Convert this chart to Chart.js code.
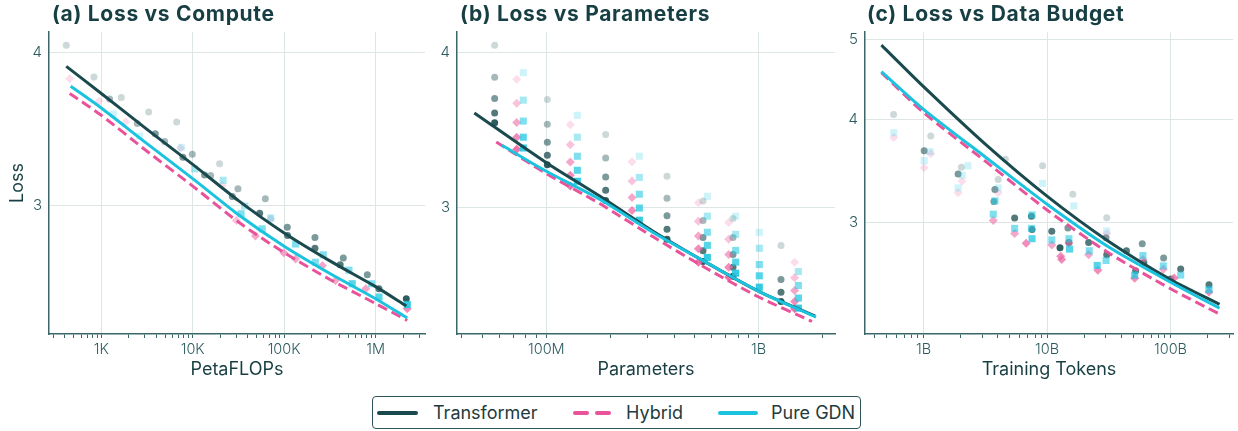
<!DOCTYPE html>
<html>
<head>
<meta charset="utf-8">
<script src="https://cdn.jsdelivr.net/npm/chart.js@4.4.1/dist/chart.umd.min.js"></script>
<style>
  body { margin: 0; background: #fff; font-family: Inter, sans-serif; }
  #wrap { position: relative; width: 1238px; height: 431px; overflow: hidden; }
  canvas { position: absolute; top: 0; }
  .ttl { position: absolute; top: 2px; font-weight: 700; font-size: 21px; letter-spacing: 0.7px; line-height: 24px; color: #173f43; white-space: nowrap; }
  #legend { position: absolute; left: 372px; top: 396px; width: 487px; height: 31px; border: 1.5px solid #2d5558; border-radius: 4px;
            font-size: 18px; color: #1f3b3d; }
  .item { display: flex; align-items: center; position: absolute; top: 0; height: 31px; }
  .swatch { height: 4px; border-radius: 2px; margin-right: 15px; }
</style>
</head>
<body>
<div id="wrap">
  <canvas id="chartA" width="430" height="380" style="left:0px"></canvas>
  <canvas id="chartB" width="410" height="380" style="left:430px"></canvas>
  <canvas id="chartC" width="398" height="380" style="left:840px"></canvas>
  <div class="ttl" style="left:52px">(a) Loss vs Compute</div>
  <div class="ttl" style="left:460px">(b) Loss vs Parameters</div>
  <div class="ttl" style="left:867px">(c) Loss vs Data Budget</div>
  <div id="legend">
    <div class="item" style="left:4px"><div class="swatch" style="width:41px;background:#1a4a4e"></div>Transformer</div>
    <div class="item" style="left:200px"><div class="swatch" style="width:16px;background:#e9539a;margin-right:6px"></div><div class="swatch" style="width:16px;background:#e9539a"></div>Hybrid</div>
    <div class="item" style="left:345px"><div class="swatch" style="width:40px;background:#1cc3de;margin-right:13px"></div>Pure GDN</div>
  </div>
</div>
<script>
// ---- (a) Loss vs Compute (PetaFLOPs) ----
const computeTfX = [414, 831, 1233, 1655, 2475, 3293, 3898, 4932, 6671, 7824, 9890, 13490, 15700, 19680, 27080, 31250, 53950, 62230, 108200, 109000, 217200, 217200, 410000, 443400, 811800, 1089000, 2167000];
const computeTfY = [4.058, 3.823, 3.668, 3.678, 3.503, 3.579, 3.436, 3.386, 3.512, 3.287, 3.306, 3.179, 3.175, 3.246, 3.052, 3.098, 2.958, 3.039, 2.881, 2.836, 2.826, 2.769, 2.684, 2.718, 2.634, 2.566, 2.518];
const computeTfShade = [0, 0, 1, 0, 1, 0, 2, 1, 0, 2, 1, 2, 1, 0, 2, 1, 3, 1, 2, 3, 2, 3, 3, 2, 2, 3, 4];
const computeHyX = [451, 943, 1847, 7400, 21050, 30000, 48500, 71170, 99000, 133400, 262000, 364000, 780000, 2220000];
const computeHyY = [3.811, 3.652, 3.512, 3.345, 3.116, 2.918, 2.833, 2.926, 2.745, 2.714, 2.680, 2.606, 2.566, 2.471];
const computeHyShade = [0, 0, 0, 0, 0, 1, 2, 0, 2, 2, 2, 2, 2, 3];
const computeGdX = [1353, 2626, 7502, 10490, 21500, 33800, 36970, 57500, 71170, 133400, 219000, 267900, 511600, 555000, 905400, 1089000, 2220000];
const computeGdY = [3.565, 3.420, 3.348, 3.215, 3.147, 2.955, 2.998, 2.872, 2.931, 2.791, 2.697, 2.735, 2.657, 2.590, 2.590, 2.526, 2.490];
const computeGdShade = [0, 0, 0, 1, 1, 2, 1, 2, 1, 2, 2, 2, 2, 3, 2, 3, 4];
const computeFitX = [1000, 3162, 10000, 31620, 100000, 316200, 1000000];
const computeFitTf = [3.900, 3.706, 3.464, 3.243, 3.029, 2.850, 2.704, 2.576, 2.484];
const computeFitHy = [3.706, 3.557, 3.324, 3.113, 2.909, 2.746, 2.611, 2.495, 2.417];
const computeFitGd = [3.757, 3.606, 3.372, 3.157, 2.949, 2.779, 2.640, 2.518, 2.428];
const computeTicks = [1e3, 1e4, 1e5, 1e6];
const computeLabels = ['1K', '10K', '100K', '1M'];

// ---- (b) Loss vs Parameters ----
const paramsTfX = [57.1e6, 57.1e6, 57.1e6, 57.1e6, 57.1e6, 101.1e6, 101.1e6, 101.1e6, 101.1e6, 101.1e6, 190.3e6, 190.3e6, 190.3e6, 190.3e6, 190.3e6,
  370.1e6, 370.1e6, 370.1e6, 370.1e6, 370.1e6, 546.8e6, 546.8e6, 546.8e6, 546.8e6, 546.8e6, 757e6, 757e6, 757e6, 757e6, 757e6, 1.274e9, 1.274e9, 1.274e9, 1.274e9];
const paramsTfY = [4.058, 3.823, 3.675, 3.578, 3.513, 3.668, 3.504, 3.388, 3.307, 3.250, 3.437, 3.290, 3.176, 3.099, 3.040,
  3.180, 3.053, 2.956, 2.882, 2.829, 3.038, 2.929, 2.838, 2.769, 2.714, 2.940, 2.838, 2.750, 2.686, 2.641, 2.796, 2.625, 2.564, 2.520];
const paramsTfShade = [0, 1, 2, 3, 4, 0, 1, 2, 3, 4, 0, 1, 2, 3, 4, 0, 1, 2, 3, 4, 0, 1, 2, 3, 4, 0, 1, 2, 3, 4, 0, 2, 3, 4];
const paramsHyX = [72.5e6, 72.5e6, 72.5e6, 72.5e6, 72.5e6, 129.7e6, 129.7e6, 129.7e6, 129.7e6, 129.7e6, 253.2e6, 253.2e6, 253.2e6, 253.2e6,
  519.9e6, 519.9e6, 519.9e6, 519.9e6, 519.9e6, 722.3e6, 722.3e6, 722.3e6, 722.3e6, 722.3e6, 1.477e9, 1.477e9, 1.477e9, 1.477e9, 1.477e9];
const paramsHyY = [3.809, 3.643, 3.515, 3.420, 3.344, 3.500, 3.373, 3.266, 3.186, 3.124, 3.268, 3.153, 3.057, 2.984,
  3.027, 2.925, 2.846, 2.780, 2.711, 2.918, 2.829, 2.750, 2.686, 2.636, 2.711, 2.633, 2.572, 2.520, 2.486];
const paramsHyShade = [0, 1, 2, 3, 4, 0, 1, 2, 3, 4, 0, 1, 2, 3, 0, 1, 2, 3, 4, 0, 1, 2, 3, 4, 0, 1, 2, 3, 4];
const paramsGdX = [77.9e6, 77.9e6, 77.9e6, 77.9e6, 77.9e6, 140e6, 140e6, 140e6, 140e6, 140e6, 274.2e6, 274.2e6, 274.2e6, 274.2e6, 274.2e6,
  573.2e6, 573.2e6, 573.2e6, 573.2e6, 573.2e6, 779.3e6, 779.3e6, 779.3e6, 779.3e6, 779.3e6, 1.007e9, 1.007e9, 1.007e9, 1.007e9, 1.007e9, 1.538e9, 1.538e9, 1.538e9, 1.538e9];
const paramsGdY = [3.856, 3.664, 3.524, 3.420, 3.352, 3.562, 3.420, 3.301, 3.216, 3.151, 3.301, 3.174, 3.076, 2.998, 2.931,
  3.064, 2.953, 2.866, 2.797, 2.735, 2.953, 2.855, 2.771, 2.711, 2.656, 2.866, 2.782, 2.699, 2.643, 2.588, 2.664, 2.596, 2.536, 2.489];
const paramsGdShade = [0, 1, 2, 3, 4, 0, 1, 2, 3, 4, 0, 1, 2, 3, 4, 0, 1, 2, 3, 4, 0, 1, 2, 3, 4, 0, 1, 2, 3, 4, 1, 2, 3, 4];
const paramsFitX = [100e6, 178.3e6, 316.8e6, 562.8e6, 1e9];
const paramsFitTf = [3.578, 3.262, 3.066, 2.873, 2.711, 2.568, 2.453];
const paramsFitHy = [3.390, 3.196, 3.023, 2.843, 2.682, 2.541, 2.428];
const paramsFitGd = [3.369, 3.210, 3.047, 2.866, 2.711, 2.568, 2.448];
const paramsTicks = [1e8, 1e9];
const paramsLabels = ['100M', '1B'];

// ---- (c) Loss vs Data Budget (training tokens) ----
const tokensTfX = [572e6, 1.144e9, 1.012e9, 2.024e9, 1.904e9, 3.783e9, 3.714e9, 4.023e9, 4.604e9, 5.466e9, 7.472e9, 7.564e9, 9.206e9, 10.93e9, 12.74e9,
  15.03e9, 14.76e9, 16.18e9, 21.73e9, 30.44e9, 30.06e9, 30.44e9, 43.97e9, 59.02e9, 60.85e9, 87.92e9, 120.9e9, 204.9e9, 52.21e9, 100.6e9];
const tokensTfY = [4.059, 3.823, 3.667, 3.504, 3.439, 3.292, 3.184, 3.386, 3.581, 3.040, 3.056, 2.944, 3.517, 2.931, 2.798,
  2.839, 2.957, 3.248, 2.839, 3.043, 2.878, 2.745, 2.775, 2.829, 2.684, 2.720, 2.638, 2.524, 2.624, 2.565];
const tokensTfShade = [0, 0, 2, 0, 2, 2, 2, 0, 0, 3, 3, 3, 0, 3, 4, 3, 2, 0, 3, 0, 2, 3, 3, 2, 3, 2, 3, 3, 3, 3];
const tokensHyX = [574e6, 1.012e9, 1.144e9, 1.904e9, 2.049e9, 3.669e9, 4.023e9, 5.466e9, 6.776e9, 10.93e9, 12.9e9, 13.14e9, 15.03e9, 21.73e9,
  25.79e9, 30.44e9, 51.26e9, 59.75e9, 87.38e9, 106.98e9, 204.9e9];
const tokensHyY = [3.806, 3.498, 3.637, 3.262, 3.368, 3.020, 3.262, 2.912, 2.834, 2.821, 2.733, 2.708, 2.834, 2.745,
  2.629, 2.912, 2.570, 2.708, 2.636, 2.572, 2.474];
const tokensHyShade = [0, 0, 0, 0, 0, 2, 0, 2, 3, 2, 3, 3, 2, 2, 3, 0, 3, 2, 2, 3, 3];
const tokensGdX = [574e6, 1.130e9, 1.012e9, 2.062e9, 1.904e9, 2.288e9, 4.023e9, 3.783e9, 3.669e9, 5.466e9, 7.564e9, 7.472e9, 7.564e9, 9.206e9,
  10.93e9, 15.03e9, 15.22e9, 16.48e9, 21.99e9, 25.48e9, 30.44e9, 30.06e9, 59.75e9, 51.26e9, 87.38e9, 120.9e9, 204.9e9];
const tokensGdY = [3.857, 3.660, 3.568, 3.426, 3.307, 3.517, 3.307, 3.189, 3.073, 2.954, 3.067, 2.954, 2.870, 3.349,
  2.860, 2.870, 2.788, 3.145, 2.775, 2.664, 2.933, 2.701, 2.738, 2.593, 2.660, 2.593, 2.489];
const tokensGdShade = [0, 0, 0, 0, 0, 0, 0, 2, 2, 2, 2, 2, 3, 0, 2, 2, 3, 0, 2, 3, 0, 2, 2, 3, 2, 2, 3];
const tokensFitX = [1e9, 3.162e9, 10e9, 31.62e9, 100e9];
const tokensFitTf = [4.926, 4.387, 3.737, 3.232, 2.848, 2.561, 2.390];
const tokensFitHy = [4.562, 4.081, 3.563, 3.109, 2.758, 2.496, 2.326];
const tokensFitGd = [4.575, 4.118, 3.605, 3.160, 2.804, 2.542, 2.364];
const tokensTicks = [1e9, 1e10, 1e11];
const tokensLabels = ['1B', '10B', '100B'];

// colours
const INK = '#173f43';
const TICK = '#2b5b5f';
const AXIS = '#3a6669';
const GRID = '#dde6e5';
const TF = '#1a4a4e', HY = '#e9539a', GD = '#1cc3de';
const TF_RGB = '29,79,82', HY_RGB = '238,104,164', GD_RGB = '34,200,226';
const alphas = [0.22, 0.4, 0.58, 0.76, 0.92];

Chart.defaults.font.family = 'Inter, sans-serif';

function pts(xs, ys) { return xs.map((x, i) => ({ x: x, y: ys[i] })); }

function scatterSet(xs, ys, shade, rgb, style, radius, order) {
  return {
    type: 'scatter', data: pts(xs, ys), order: order,
    pointStyle: style, pointRadius: radius, pointBorderWidth: 0,
    pointBackgroundColor: shade.map(s => `rgba(${rgb},${alphas[s]})`)
  };
}

// fit curve: end points are where the drawn curve starts/stops
function fitSet(x0, xs, x1, ys, color, dash, order) {
  return {
    type: 'line', data: pts([x0, ...xs, x1], ys), order: order,
    borderColor: color, borderWidth: 3, borderDash: dash, borderCapStyle: 'butt',
    pointRadius: 0, tension: 0.25, fill: false
  };
}

function minorTicks(min, max) {
  const out = [];
  for (let e = Math.floor(Math.log10(min)); e <= Math.ceil(Math.log10(max)); e++) {
    for (let m = 1; m < 10; m++) {
      const v = m * Math.pow(10, e);
      if (v >= min && v <= max) out.push({ value: v });
    }
  }
  return out;
}

function makePanel(id, cfg) {
  const isMajor = v => cfg.xTicks.some(m => Math.abs(v / m - 1) < 1e-6);
  new Chart(document.getElementById(id), {
    type: 'scatter',
    data: { datasets: cfg.datasets },
    options: {
      responsive: false,
      animation: false,
      devicePixelRatio: 1,
      layout: { padding: { left: 0, top: 32, right: cfg.padRight, bottom: 0 } },
      plugins: { legend: { display: false }, tooltip: { enabled: false } },
      scales: {
        x: {
          type: 'logarithmic', min: cfg.xMin, max: cfg.xMax,
          afterBuildTicks: s => { s.ticks = minorTicks(cfg.xMin, cfg.xMax); },
          afterFit: s => { s.height = 46; },
          border: { color: AXIS, width: 1.5 },
          grid: {
            color: c => (c.tick && isMajor(c.tick.value)) ? GRID : 'rgba(0,0,0,0)',
            tickColor: AXIS, tickLength: 4, lineWidth: 1
          },
          ticks: {
            autoSkip: false, maxRotation: 0, padding: 3, color: TICK, font: { size: 14.5, weight: 300 },
            callback: v => { const i = cfg.xTicks.findIndex(m => Math.abs(v / m - 1) < 1e-6); return i >= 0 ? cfg.xLabels[i] : ''; }
          },
          title: { display: true, text: cfg.xTitle, color: INK, font: { size: 18 }, padding: { top: 0, bottom: 0 } }
        },
        y: {
          type: 'logarithmic', min: cfg.yMin, max: cfg.yMax,
          afterBuildTicks: s => { s.ticks = cfg.yTicks.map(v => ({ value: v })); },
          afterFit: s => { s.width = cfg.yWidth; },
          border: { color: AXIS, width: 1.5 },
          grid: { color: GRID, drawTicks: false, lineWidth: 1 },
          ticks: { padding: 7, color: TICK, font: { size: 15, weight: 300 }, callback: v => String(v) },
          title: { display: !!cfg.yTitle, text: cfg.yTitle || '', color: INK, font: { size: 18 }, padding: { top: 7, bottom: 0 } }
        }
      }
    }
  });
}

makePanel('chartA', {
  xMin: 268, xMax: 3.47e6, yMin: 2.356, yMax: 4.161, yTicks: [3, 4], yWidth: 49, padRight: 5,
  xTicks: computeTicks, xLabels: computeLabels, xTitle: 'PetaFLOPs', yTitle: 'Loss',
  datasets: [
    fitSet(462, computeFitX, 2220000, computeFitGd, GD, [], 0),
    fitSet(451, computeFitX, 2220000, computeFitHy, HY, [10, 5], 1),
    fitSet(414, computeFitX, 2167000, computeFitTf, TF, [], 2),
    scatterSet(computeGdX, computeGdY, computeGdShade, GD_RGB, 'rect', 5, 3),
    scatterSet(computeHyX, computeHyY, computeHyShade, HY_RGB, 'rectRot', 4.5, 4),
    scatterSet(computeTfX, computeTfY, computeTfShade, TF_RGB, 'circle', 3.5, 5)
  ]
});

makePanel('chartB', {
  xMin: 37.96e6, xMax: 2.288e9, yMin: 2.372, yMax: 4.159, yTicks: [3, 4], yWidth: 27, padRight: 5,
  xTicks: paramsTicks, xLabels: paramsLabels, xTitle: 'Parameters',
  datasets: [
    fitSet(61.8e6, paramsFitX, 1.862e9, paramsFitGd, GD, [], 0),
    fitSet(58.1e6, paramsFitX, 1.783e9, paramsFitHy, HY, [10, 5], 1),
    fitSet(45.8e6, paramsFitX, 1.842e9, paramsFitTf, TF, [], 2),
    scatterSet(paramsGdX, paramsGdY, paramsGdShade, GD_RGB, 'rect', 5, 3),
    scatterSet(paramsHyX, paramsHyY, paramsHyShade, HY_RGB, 'rectRot', 4.5, 4),
    scatterSet(paramsTfX, paramsTfY, paramsTfShade, TF_RGB, 'circle', 3.5, 5)
  ]
});

makePanel('chartC', {
  xMin: 335.7e6, xMax: 320.6e9, yMin: 2.247, yMax: 5.109, yTicks: [3, 4, 5], yWidth: 25, padRight: 0,
  xTicks: tokensTicks, xLabels: tokensLabels, xTitle: 'Training Tokens',
  datasets: [
    fitSet(456e6, tokensFitX, 249.3e9, tokensFitGd, GD, [], 0),
    fitSet(456e6, tokensFitX, 249.3e9, tokensFitHy, HY, [10, 5], 1),
    fitSet(456e6, tokensFitX, 249.3e9, tokensFitTf, TF, [], 2),
    scatterSet(tokensGdX, tokensGdY, tokensGdShade, GD_RGB, 'rect', 5, 3),
    scatterSet(tokensHyX, tokensHyY, tokensHyShade, HY_RGB, 'rectRot', 4.5, 4),
    scatterSet(tokensTfX, tokensTfY, tokensTfShade, TF_RGB, 'circle', 3.5, 5)
  ]
});
</script>
</body>
</html>
